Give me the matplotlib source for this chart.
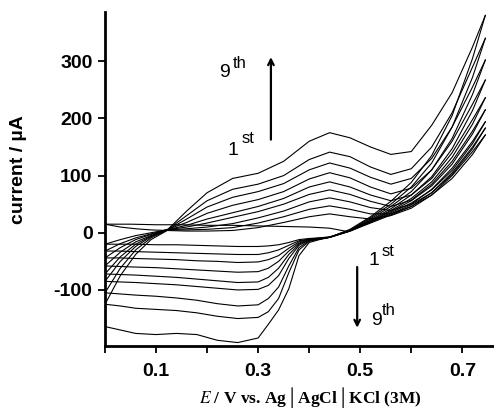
import matplotlib
matplotlib.use('Agg')
import matplotlib.pyplot as plt
import numpy as np

plt.rcParams['font.family'] = ['Liberation Sans', 'DejaVu Sans']
plt.rcParams['mathtext.fontset'] = 'stix'
plt.rcParams['axes.unicode_minus'] = False

# potential grid of the forward (anodic) scans, V
E_anodic = [0.0, 0.03, 0.06, 0.09, 0.12, 0.16, 0.20, 0.25, 0.30, 0.35,
            0.40, 0.44, 0.48, 0.52, 0.56, 0.60, 0.64, 0.68, 0.72, 0.745]

# anodic currents, uA, cycles 1..9
I_anodic = [
    [15, 10, 7, 5, 4, 3, 3, 4, 9, 18, 28, 33, 28, 24, 30, 43, 66, 100, 142, 171],
    [-20, -12, -5, 0, 5, 5, 6, 9, 17, 28, 41, 47, 41, 33, 33, 46, 70, 105, 150, 183],
    [-32, -19, -9, -2, 5, 7, 10, 16, 26, 38, 54, 61, 54, 44, 39, 50, 76, 113, 160, 194],
    [-44, -26, -12, -3, 5, 10, 17, 27, 37, 50, 67, 75, 67, 55, 46, 57, 85, 125, 178, 215],
    [-58, -34, -16, -5, 5, 13, 24, 35, 46, 60, 80, 89, 80, 66, 56, 66, 95, 140, 198, 236],
    [-72, -42, -20, -6, 5, 18, 34, 48, 58, 72, 94, 105, 96, 80, 68, 78, 110, 160, 225, 267],
    [-85, -50, -24, -7, 4, 24, 45, 62, 72, 86, 110, 122, 113, 97, 85, 95, 130, 185, 255, 302],
    [-105, -62, -30, -9, 4, 30, 56, 76, 85, 100, 128, 141, 133, 115, 102, 112, 150, 210, 290, 340],
    [-125, -75, -38, -12, 3, 38, 70, 95, 104, 125, 160, 175, 166, 150, 137, 142, 188, 245, 325, 380],
]

# potential grid of the reverse (cathodic) scans, V
E_cathodic = [0.745, 0.72, 0.68, 0.64, 0.60, 0.56, 0.52, 0.48, 0.44, 0.42, 0.40, 0.38,
              0.36, 0.34, 0.32, 0.30, 0.26, 0.22, 0.18, 0.14, 0.10, 0.06, 0.03, 0.0]

# cathodic currents, uA, cycles 1..9
I_cathodic = [
    [171, 137, 95, 66, 46, 31, 17, 3, -7, -9, -10, -12, -17, -21, -23, -24, -24, -23, -22, -21, -21, -20, -20, -20],
    [183, 147, 102, 70, 49, 33, 18, 3, -8, -9, -11, -14, -22, -30, -35, -38, -38, -37, -36, -35, -34, -33, -32, -32],
    [194, 156, 109, 75, 52, 35, 19, 3, -8, -10, -11, -16, -27, -40, -47, -51, -52, -50, -49, -47, -46, -45, -44, -44],
    [215, 173, 120, 82, 56, 37, 20, 3, -8, -10, -12, -18, -32, -50, -62, -68, -69, -67, -65, -63, -61, -60, -59, -58],
    [236, 190, 132, 89, 60, 39, 21, 4, -8, -10, -12, -20, -38, -62, -78, -86, -87, -84, -81, -78, -76, -74, -73, -72],
    [267, 214, 147, 98, 66, 42, 22, 4, -8, -11, -13, -22, -45, -75, -92, -99, -100, -97, -94, -91, -89, -87, -86, -85],
    [302, 242, 165, 110, 72, 46, 24, 4, -8, -11, -14, -26, -58, -95, -115, -126, -128, -124, -118, -114, -111, -109, -107, -105],
    [340, 272, 185, 122, 80, 50, 26, 5, -8, -11, -15, -30, -70, -115, -138, -148, -150, -146, -140, -136, -134, -132, -128, -125],
    [380, 305, 205, 135, 88, 55, 28, 6, -8, -12, -17, -40, -98, -135, -160, -184, -192, -188, -178, -176, -178, -176, -170, -164],
]

# initial sweep from open circuit down to 0 V
E_start = [0.47, 0.44, 0.40, 0.35, 0.30, 0.25, 0.20, 0.15, 0.10, 0.05, 0.0]
I_start = [3, 8, 10, 11, 12, 13, 13, 14, 14, 15, 15]

fig = plt.figure(figsize=(4.94, 4.11), dpi=100)
ax = fig.add_axes([105/494, 1-346/411, 389/494, 334/411])

lw = 0.8
ax.plot(E_start, I_start, color='black', lw=lw)
for ia, ic in zip(I_anodic, I_cathodic):
    ax.plot(E_anodic, ia, color='black', lw=lw)
    ax.plot(E_cathodic, ic, color='black', lw=lw)

ax.set_xlim(0.0, 0.762)
ax.set_ylim(-198, 386)

ax.spines['top'].set_visible(False)
ax.spines['right'].set_visible(False)
for s in ['left', 'bottom']:
    ax.spines[s].set_linewidth(2.0)

ax.set_xticks(np.arange(0.0, 0.75, 0.1))
ax.set_xticklabels(['', '0.1', '', '0.3', '', '0.5', '', '0.7'])
ax.set_yticks([-100, 0, 100, 200, 300])
ax.tick_params(axis='both', direction='out', length=5, width=1.3, labelsize=14)
ax.tick_params(axis='x', pad=7)
ax.tick_params(axis='y', pad=4)
for lab in ax.get_xticklabels() + ax.get_yticklabels():
    lab.set_fontweight('bold')

ax.set_ylabel('current / µA', fontsize=14, fontweight='bold')
ax.yaxis.set_label_coords(-0.20, 0.527)
ax.set_xlabel(r'$\mathbf{\mathit{E}}$ / V vs. Ag│AgCl│KCl (3M)', fontsize=12.5,
              fontweight='bold', family='Liberation Serif')
ax.xaxis.set_label_coords(0.527, -0.118)

# cycle labels and arrows
ann = dict(fontsize=14, color='black')
sup = dict(fontsize=12, color='black')
ax.text(0.235, 280, '9', ha='center', va='center', **ann)
ax.text(0.251, 296, 'th', ha='left', va='center', **sup)
ax.text(0.251, 144, '1', ha='center', va='center', **ann)
ax.text(0.268, 165, 'st', ha='left', va='center', **sup)
ax.annotate('', xy=(0.325, 312), xytext=(0.325, 158),
            arrowprops=dict(arrowstyle='->', lw=1.6, color='black'))

ax.text(0.527, -48, '1', ha='center', va='center', **ann)
ax.text(0.541, -33, 'st', ha='left', va='center', **sup)
ax.annotate('', xy=(0.494, -171), xytext=(0.494, -55),
            arrowprops=dict(arrowstyle='->', lw=1.6, color='black'))
ax.text(0.531, -153, '9', ha='center', va='center', **ann)
ax.text(0.543, -136, 'th', ha='left', va='center', **sup)

fig.savefig('out.png', dpi=100)
